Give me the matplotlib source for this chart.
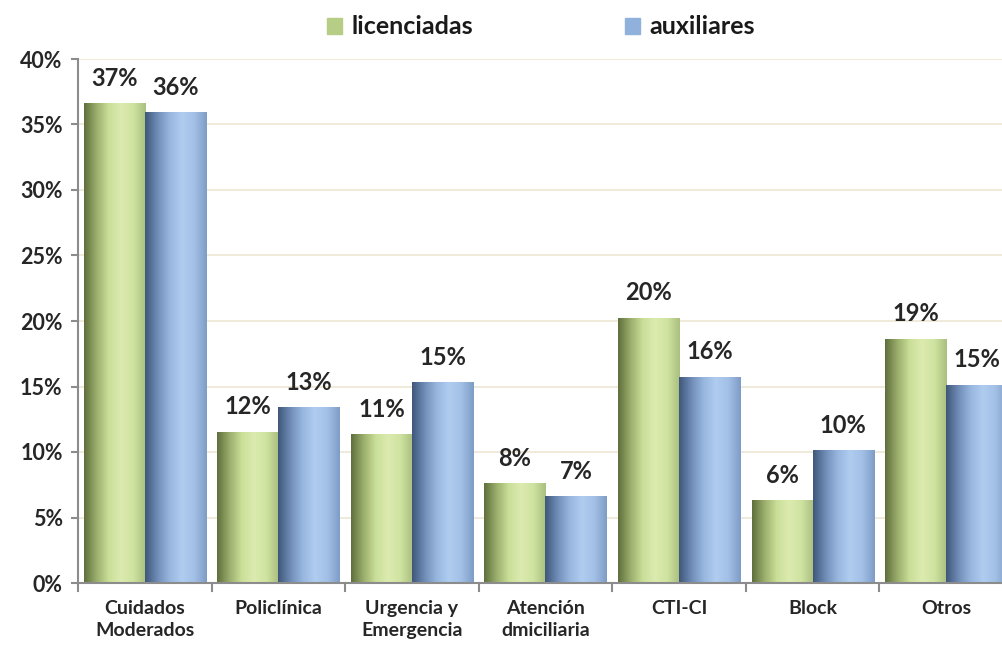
import numpy as np
import matplotlib.pyplot as plt
from matplotlib.colors import LinearSegmentedColormap
from matplotlib.patches import Rectangle

categories = ["Cuidados\nModerados", "Policlínica", "Urgencia y\nEmergencia",
              "Atención\ndmiciliaria", "CTI-CI", "Block", "Otros"]
licenciadas = [36.6, 11.5, 11.3, 7.6, 20.2, 6.3, 18.6]
auxiliares = [35.9, 13.4, 15.3, 6.6, 15.7, 10.1, 15.1]
lic_labels = ["37%", "12%", "11%", "8%", "20%", "6%", "19%"]
aux_labels = ["36%", "13%", "15%", "7%", "16%", "10%", "15%"]
series_names = ["licenciadas", "auxiliares"]

plt.rcParams['font.family'] = ['Lato', 'DejaVu Sans']
TXT = '#262626'

green_cmap = LinearSegmentedColormap.from_list(
    "g", ["#5f6e3c", "#9aae6c", "#cadf98", "#dcebb0", "#cfe3a0", "#a9bf7f"])
blue_cmap = LinearSegmentedColormap.from_list(
    "b", ["#3f5679", "#6f8cb6", "#98b7df", "#b0cdf0", "#a2c0e6", "#7d9cc6"])
grad = np.linspace(0, 1, 256).reshape(1, -1)

fig = plt.figure(figsize=(10.03, 6.46), dpi=100)
ax = fig.add_axes([78 / 1003, 63 / 646, 935 / 1003, 524 / 646])

x = np.arange(len(categories))
w = 0.457
bars_l = ax.bar(x - w / 2, licenciadas, w, color='none')
bars_a = ax.bar(x + w / 2, auxiliares, w, color='none')


def paint(bars, cmap):
    for b in bars:
        x0, y0 = b.get_x(), b.get_y()
        bw, bh = b.get_width(), b.get_height()
        ax.imshow(grad, cmap=cmap, aspect='auto', interpolation='bicubic',
                  extent=(x0, x0 + bw, y0, y0 + bh), zorder=2)


paint(bars_l, green_cmap)
paint(bars_a, blue_cmap)

for bars, labels in ((bars_l, lic_labels), (bars_a, aux_labels)):
    for b, t in zip(bars, labels):
        ax.annotate(t, (b.get_x() + b.get_width() / 2, b.get_height()),
                    xytext=(0, 10), textcoords='offset points',
                    ha='center', va='bottom', fontsize=17, fontweight='bold',
                    color=TXT)

ax.set_xlim(-0.5, len(categories) - 0.5)
ax.set_ylim(0, 40)
ax.set_yticks(range(0, 41, 5))
ax.set_yticklabels([f"{v}%" for v in range(0, 41, 5)], fontsize=15.5,
                   fontweight='bold', color=TXT)
ax.set_xticks(x)
ax.set_xticklabels(categories, fontsize=14, fontweight='bold', color=TXT,
                   linespacing=1.4, va='top')
ax.tick_params(axis='x', length=0, pad=12)
ax.tick_params(axis='y', length=5, color='#8c8c8c', width=1.5, pad=6)
for xb in np.arange(-0.5, len(categories), 1.0):
    ax.plot([xb, xb], [0, -0.6], color='#8c8c8c', lw=1.5, clip_on=False)

ax.yaxis.grid(True, color='#ece6d2', lw=1.2)
ax.set_axisbelow(True)
for s in ['top', 'right']:
    ax.spines[s].set_visible(False)
for s in ['left', 'bottom']:
    ax.spines[s].set_color('#8c8c8c')
    ax.spines[s].set_linewidth(1.5)

handles = [Rectangle((0, 0), 1, 1, color='#b5cd85'),
           Rectangle((0, 0), 1, 1, color='#8fb1dc')]
fig.legend(handles, series_names, loc='center',
           bbox_to_anchor=(541 / 1003, 1 - 27 / 646),
           ncol=2, frameon=False, handlelength=0.6, handleheight=0.6,
           handletextpad=0.4, columnspacing=6.05,
           prop={'size': 18, 'weight': 'bold'}, labelcolor='#1a1a1a')

fig.savefig("out.png", dpi=100)
